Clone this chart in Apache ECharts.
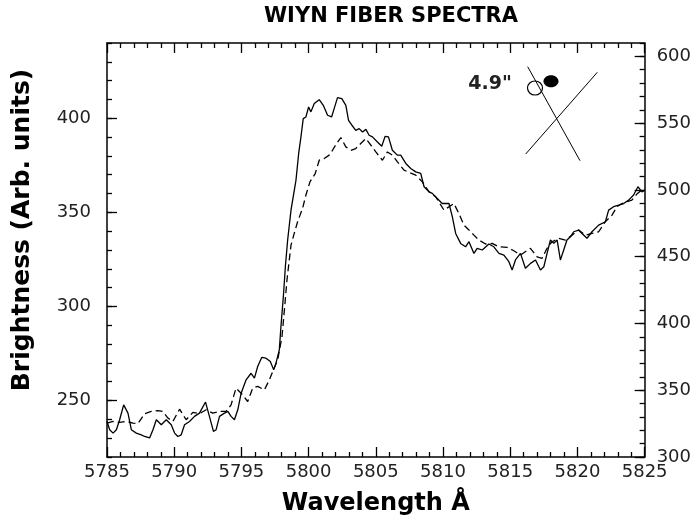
<!DOCTYPE html>
<html><head><meta charset="utf-8">
<script src="https://cdn.jsdelivr.net/npm/echarts@6/dist/echarts.min.js"></script>
<style>html,body{margin:0;padding:0;background:#fff}#c{width:694px;height:525px}</style>
</head><body><div id="c"></div>
<script>
// Solid spectrum (wavelength in Å, brightness in arbitrary units, left axis)
const solidWave = [5785.00,5785.20,5785.45,5785.70,5785.94,5786.24,5786.56,5786.81,5787.18,5787.55,5787.80,5788.17,5788.42,5788.67,5789.04,5789.41,5789.78,5790.03,5790.27,5790.52,5790.77,5791.14,5791.51,5791.88,5792.33,5792.62,5792.92,5793.12,5793.37,5793.74,5793.99,5794.23,5794.48,5794.73,5794.98,5795.35,5795.72,5795.97,5796.21,5796.51,5796.83,5797.15,5797.40,5797.57,5797.82,5797.94,5798.12,5798.27,5798.44,5798.69,5799.06,5799.26,5799.43,5799.60,5799.80,5800.00,5800.17,5800.42,5800.79,5801.09,5801.41,5801.71,5801.90,5802.15,5802.47,5802.77,5802.97,5803.22,5803.51,5803.76,5804.01,5804.26,5804.50,5804.75,5805.12,5805.44,5805.69,5805.94,5806.23,5806.60,5806.85,5807.23,5807.60,5807.97,5808.34,5808.59,5808.96,5809.20,5809.57,5809.94,5810.44,5810.69,5810.94,5811.31,5811.68,5811.93,5812.30,5812.54,5812.92,5813.41,5813.78,5814.16,5814.53,5814.90,5815.14,5815.39,5815.76,5816.13,5816.51,5816.88,5817.25,5817.50,5817.74,5817.99,5818.24,5818.49,5818.73,5818.98,5819.22,5819.48,5819.72,5820.09,5820.34,5820.71,5821.08,5821.58,5822.08,5822.32,5822.69,5823.07,5823.44,5823.81,5824.18,5824.50,5824.80,5825.00];
const solidBright = [238.9,234.5,232.7,234.5,239.8,247.7,243.3,234.5,232.7,231.8,230.9,230.1,234.5,239.8,237.1,239.8,237.1,232.7,230.9,231.8,237.1,238.9,241.6,243.3,249.2,241.6,233.6,234.5,241.6,243.3,244.2,241.6,239.8,245.1,253.9,261.0,264.5,261.9,268.1,272.9,272.5,270.7,266.3,269.9,276.9,289.3,305.2,321.1,335.3,351.2,367.1,381.3,390.1,399.8,400.7,406.0,403.4,407.8,409.9,406.9,401.6,400.7,405.1,411.0,410.4,406.9,398.9,396.3,393.6,394.5,392.7,394.1,391.0,390.1,387.4,385.1,390.4,390.1,383.0,380.4,380.4,376.0,373.3,371.5,370.7,363.6,360.9,360.1,357.4,354.7,354.7,347.7,338.8,333.5,331.7,334.4,328.2,330.9,330.0,333.2,331.7,328.2,327.3,323.8,319.4,324.7,328.2,320.3,322.9,324.7,319.4,321.1,328.2,335.3,333.5,335.3,324.7,330.0,335.3,337.0,339.7,340.6,338.8,336.2,339.7,343.2,345.0,351.2,353.0,353.8,354.7,356.5,359.2,363.6,360.9,361.8];

// Dashed spectrum
const dashWave = [5785.00,5785.45,5785.94,5786.44,5786.93,5787.30,5787.80,5788.29,5788.79,5789.16,5789.53,5789.90,5790.40,5790.89,5791.39,5791.88,5792.38,5792.87,5793.37,5793.86,5794.23,5794.60,5794.98,5795.47,5795.84,5796.21,5796.71,5797.08,5797.33,5797.70,5798.02,5798.22,5798.39,5798.69,5798.93,5799.18,5799.55,5799.80,5800.10,5800.49,5800.79,5801.16,5801.53,5801.78,5802.08,5802.40,5802.77,5803.14,5803.51,5803.88,5804.26,5804.63,5805.00,5805.49,5805.86,5806.23,5806.61,5807.10,5807.97,5808.46,5808.96,5809.45,5810.07,5810.81,5811.18,5811.56,5811.93,5812.30,5812.67,5813.16,5813.66,5814.15,5814.77,5815.27,5815.76,5816.50,5817.00,5817.37,5817.74,5818.11,5818.61,5819.10,5819.60,5820.09,5820.59,5821.08,5821.58,5822.07,5822.57,5822.94,5823.31,5823.68,5824.05,5824.42,5824.92];
const dashBright = [238.0,238.9,238.4,238.9,238.0,237.7,243.0,244.2,244.7,244.2,240.7,238.9,245.4,239.8,243.7,243.0,245.1,243.3,244.2,244.2,247.7,256.6,253.9,249.5,256.6,257.5,255.7,261.0,265.4,271.6,284.0,299.9,314.1,332.6,338.8,345.0,352.1,359.2,366.2,370.6,377.7,378.6,380.4,383.0,386.6,389.7,384.8,383.0,383.9,386.6,389.2,385.7,382.1,377.7,382.1,380.4,376.8,372.4,369.8,366.2,360.9,358.3,351.2,354.7,349.4,343.2,340.6,337.9,335.3,333.2,333.5,331.7,331.4,329.6,327.3,330.9,326.4,325.6,330.9,334.4,336.2,335.3,337.9,340.6,337.9,338.8,339.7,345.0,348.5,353.0,354.7,355.6,356.5,359.7,362.7];

// Axis ranges and tick labels
const xRange = [5785, 5825];
const leftRange = [220, 440];
const leftTickLabels = [250, 300, 350, 400];
const rightRange = [300, 610];

const FONT = '"DejaVu Sans", sans-serif';
const zip = (xs, ys) => xs.map((x, i) => [x, ys[i]]);
const plain = v => String(v);

const lineSt = {color: '#000', width: 1.5};
const tickSt = {color: '#000', width: 1.3};
const labelSt = {fontFamily: FONT, fontSize: 18, color: '#222', formatter: plain};

function xAx(pos, withLabels) {
  return {
    type: 'value', position: pos, min: xRange[0], max: xRange[1], interval: 5,
    axisLine: {show: true, onZero: false, lineStyle: lineSt},
    axisTick: {show: true, inside: true, length: 10, lineStyle: tickSt},
    minorTick: {show: true, splitNumber: 5, length: 5, lineStyle: tickSt},
    axisLabel: Object.assign({show: withLabels, margin: 6}, labelSt),
    splitLine: {show: false}, minorSplitLine: {show: false}
  };
}

const xBottom = xAx('bottom', true);
xBottom.name = 'Wavelength Å';
xBottom.nameLocation = 'middle';
xBottom.nameGap = 35;
xBottom.nameTextStyle = {fontFamily: FONT, fontWeight: 'bold', fontSize: 24, color: '#000'};

const option = {
  animation: false,
  backgroundColor: '#fff',
  title: {
    text: 'WIYN FIBER SPECTRA', left: 391, top: 6, textAlign: 'center', padding: 0,
    textStyle: {fontFamily: FONT, fontWeight: 'bold', fontSize: 21, color: '#000'}
  },
  grid: {left: 107, top: 43, width: 539, height: 414, containLabel: false},
  xAxis: [xBottom, xAx('top', false)],
  yAxis: [
    {
      type: 'value', position: 'left', min: leftRange[0], max: leftRange[1],
      axisLine: {show: true, onZero: false, lineStyle: lineSt},
      axisTick: {show: true, inside: true, length: 10, lineStyle: tickSt, customValues: leftTickLabels},
      axisLabel: Object.assign({margin: 16, customValues: leftTickLabels}, labelSt),
      splitLine: {show: false},
      name: 'Brightness (Arb. units)', nameLocation: 'middle', nameGap: 72,
      nameTextStyle: {fontFamily: FONT, fontWeight: 'bold', fontSize: 25, color: '#000', padding: [0, 0, 0, 40]}
    },
    {
      type: 'value', position: 'left', min: leftRange[0], max: leftRange[1], interval: 10,
      axisLine: {show: false},
      axisTick: {show: true, inside: true, length: 5, lineStyle: tickSt},
      axisLabel: {show: false}, splitLine: {show: false}
    },
    {
      type: 'value', position: 'right', min: rightRange[0], max: rightRange[1], interval: 50,
      axisLine: {show: true, onZero: false, lineStyle: lineSt},
      axisTick: {show: true, inside: true, length: 10, lineStyle: tickSt},
      axisLabel: Object.assign({margin: 12, showMaxLabel: false}, labelSt),
      splitLine: {show: false}
    },
    {
      type: 'value', position: 'right', min: rightRange[0], max: rightRange[1], interval: 10,
      axisLine: {show: false},
      axisTick: {show: true, inside: true, length: 5, lineStyle: tickSt},
      axisLabel: {show: false}, splitLine: {show: false}
    }
  ],
  series: [
    {
      name: 'solid', type: 'line', xAxisIndex: 0, yAxisIndex: 0,
      data: zip(solidWave, solidBright), showSymbol: false, symbol: 'none',
      lineStyle: {color: '#000', width: 1.3}
    },
    {
      name: 'dashed', type: 'line', xAxisIndex: 0, yAxisIndex: 0,
      data: zip(dashWave, dashBright), showSymbol: false, symbol: 'none',
      lineStyle: {color: '#000', width: 1.3, type: [7, 4]}
    }
  ],
  graphic: [
    {type: 'line', shape: {x1: 527.7, y1: 66.7, x2: 580, y2: 160.7}, style: {stroke: '#000', lineWidth: 1}},
    {type: 'line', shape: {x1: 525.7, y1: 154, x2: 597.3, y2: 72.3}, style: {stroke: '#000', lineWidth: 1}},
    {type: 'ellipse', shape: {cx: 535, cy: 88, rx: 7.5, ry: 7}, style: {fill: 'rgba(0,0,0,0)', stroke: '#000', lineWidth: 1.2}},
    {type: 'ellipse', shape: {cx: 551, cy: 81.3, rx: 7.5, ry: 6}, style: {fill: '#000'}},
    {type: 'text', style: {text: '4.9"', x: 490, y: 84, align: 'center', verticalAlign: 'middle',
      fontFamily: 'DejaVu Sans', fontWeight: 'bold', fontSize: 19, fill: '#222'}}
  ]
};

const chart = echarts.init(document.getElementById('c'));
chart.setOption(option);
</script>
</body></html>
